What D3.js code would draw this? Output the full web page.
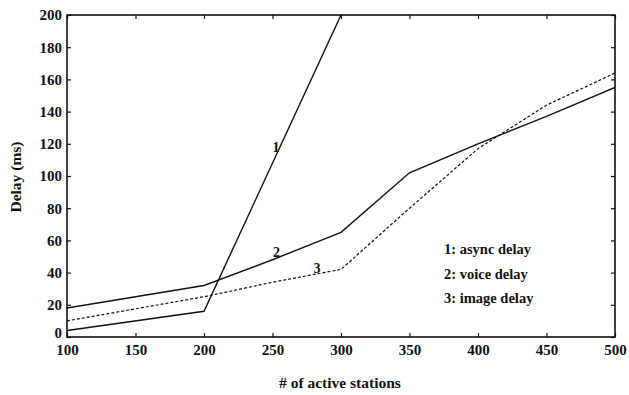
<!DOCTYPE html>
<html><head><meta charset="utf-8">
<script src="https://cdn.jsdelivr.net/npm/d3@7"></script>
<style>body{margin:0;background:#fff}svg text{font-family:"Liberation Serif","Times New Roman",serif;font-weight:bold;fill:#111}</style>
</head><body><svg id="c" width="629" height="395"></svg>
<script>
const xTicks = [100,150,200,250,300,350,400,450,500];
const yTicks = [0,20,40,60,80,100,120,140,160,180,200];
const asyncX = [100,200,300];
const asyncY = [4,16,200];
const voiceX = [100,200,250,300,350,400,450,500];
const voiceY = [18,32,48,65,102,120,137,155];
const imageX = [100,200,250,300,350,400,450,500];
const imageY = [10,25,34,42,80,117,144,164];
const legendLabels = ["1: async delay","2: voice delay","3: image delay"];
const seriesTags = ["1","2","3"];

const svg = d3.select("#c");
const m = {l:67, r:615, t:15, b:337};
const x = d3.scaleLinear().domain([100,500]).range([m.l,m.r]);
const y = d3.scaleLinear().domain([0,200]).range([m.b,m.t]);

const g = svg.append("g");
g.append("rect").attr("x",m.l).attr("y",m.t).attr("width",m.r-m.l).attr("height",m.b-m.t)
  .attr("fill","none").attr("stroke","#111").attr("stroke-width",1.6);

const ax = g.append("g").attr("transform",`translate(0,${m.b})`)
  .call(d3.axisBottom(x).tickValues(xTicks).tickSizeInner(-4).tickSizeOuter(0).tickPadding(7));
const axT = g.append("g").attr("transform",`translate(0,${m.t})`)
  .call(d3.axisTop(x).tickValues(xTicks).tickSizeInner(-4).tickSizeOuter(0).tickFormat(""));
const ay = g.append("g").attr("transform",`translate(${m.l},0)`)
  .call(d3.axisLeft(y).tickValues(yTicks).tickSizeInner(-4).tickSizeOuter(0).tickPadding(5));
const ayR = g.append("g").attr("transform",`translate(${m.r},0)`)
  .call(d3.axisRight(y).tickValues(yTicks).tickSizeInner(-4).tickSizeOuter(0).tickFormat(""));
[ax,axT,ay,ayR].forEach(a=>{a.select(".domain").remove();a.selectAll("line").attr("stroke","#111").attr("stroke-width",1.2);
  a.selectAll("text").style("font-family",'"Liberation Serif",serif').style("font-weight","bold").style("font-size","15px").attr("fill","#111");});
// lift the "0" label slightly so it does not collide with "100"
ay.selectAll(".tick").filter(d=>d===0).select("text").attr("dy","0.05em");

const line = d3.line().x(d=>x(d[0])).y(d=>y(d[1]));
svg.append("clipPath").attr("id","cp").append("rect").attr("x",m.l).attr("y",m.t).attr("width",m.r-m.l).attr("height",m.b-m.t);
const lines = g.append("g").attr("clip-path","url(#cp)");
lines.append("path").datum(asyncX.map((v,i)=>[v,asyncY[i]])).attr("d",line).attr("fill","none").attr("stroke","#111").attr("stroke-width",1.4);
lines.append("path").datum(voiceX.map((v,i)=>[v,voiceY[i]])).attr("d",line).attr("fill","none").attr("stroke","#111").attr("stroke-width",1.4);
lines.append("path").datum(imageX.map((v,i)=>[v,imageY[i]])).attr("d",line).attr("fill","none").attr("stroke","#111").attr("stroke-width",1.2).attr("stroke-dasharray","3,2");

const tagPos = [[252.5,118],[253,53],[282.5,43]];
g.selectAll(".tag").data(seriesTags).join("text").attr("class","tag")
  .attr("x",(d,i)=>x(tagPos[i][0])).attr("y",(d,i)=>y(tagPos[i][1]))
  .attr("text-anchor","middle").attr("dy","0.35em").style("font-size","14px").text(d=>d);

g.selectAll(".leg").data(legendLabels).join("text").attr("class","leg")
  .attr("x",444).attr("y",(d,i)=>249+i*24.5).attr("dy","0.35em").style("font-size","14.5px").text(d=>d);

svg.append("text").attr("x",340).attr("y",383).attr("text-anchor","middle").attr("dy","0.35em").style("font-size","15.5px").text("# of active stations");
svg.append("text").attr("transform","translate(16,177) rotate(-90)").attr("text-anchor","middle").attr("dy","0.35em").style("font-size","15.5px").text("Delay (ms)");
</script></body></html>
